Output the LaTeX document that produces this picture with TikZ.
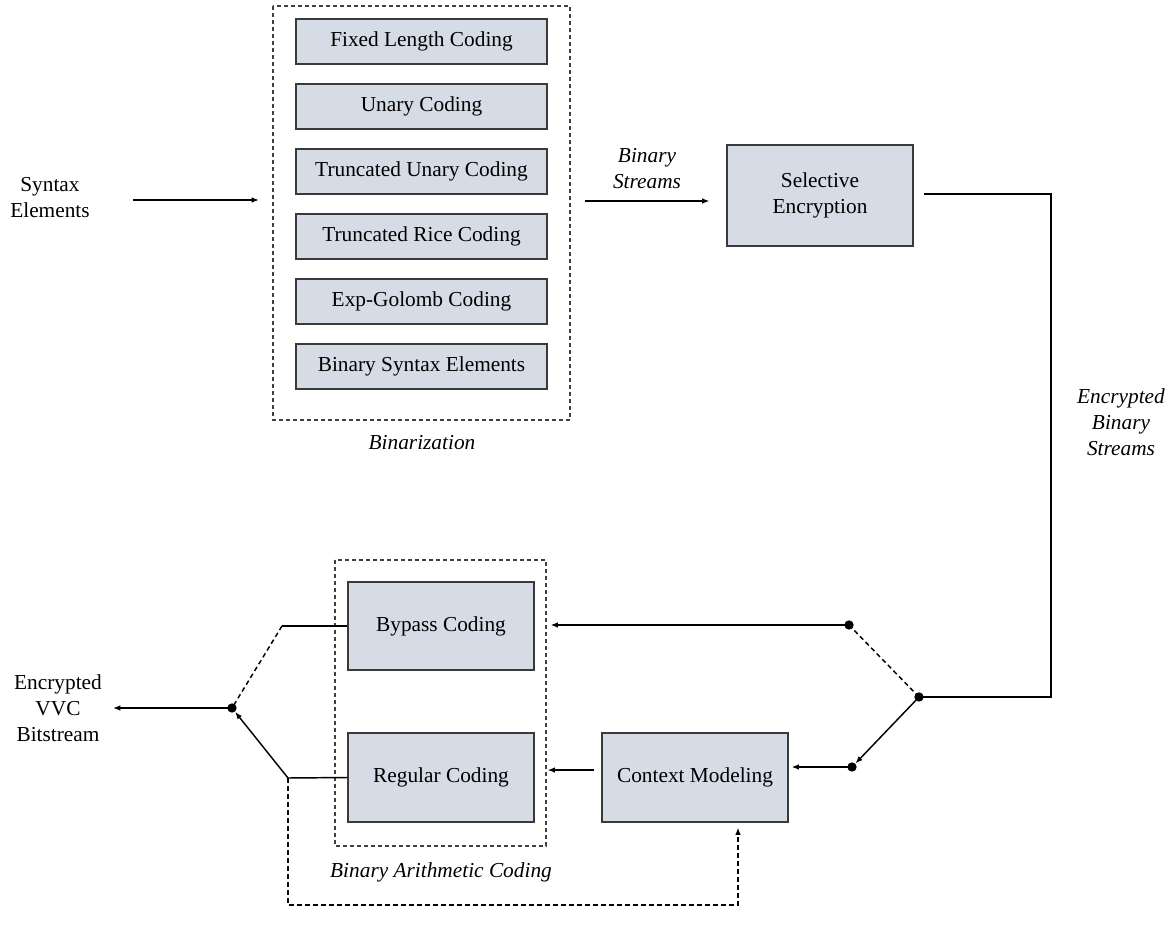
\documentclass[tikz,border=0pt]{standalone}
\usepackage{fontspec}
\setmainfont{Liberation Serif}
\usetikzlibrary{arrows.meta}
\definecolor{boxfill}{HTML}{D6DCE5}
\definecolor{boxline}{HTML}{3A3A3A}
\definecolor{dashline}{HTML}{404040}
\begin{document}
\begin{tikzpicture}[x=0.75pt,y=-0.75pt,
  every node/.style={font=\fontsize{16}{19.5}\selectfont},
  blk/.style={draw=boxline, fill=boxfill, line width=0.8pt, inner sep=0pt, align=center},
  grp/.style={draw=dashline, line width=0.8pt, dash pattern=on 3pt off 2.25pt},
  wire/.style={line width=1.1pt, black},
  dwire/.style={wire, dash pattern=on 3.5pt off 2.5pt},
  arr/.style={wire, -{Latex[length=5.5pt,width=4.2pt]}},
  darr/.style={dwire, -{Latex[length=5.5pt,width=4.2pt]}},
  lbl/.style={align=center, inner sep=0pt, font=\fontsize{16}{19.5}\selectfont\itshape},
  txt/.style={align=center, inner sep=0pt},
  dot/.style={circle, fill=black, inner sep=0pt, minimum size=7pt}
]
\useasboundingbox (0,0) rectangle (1169,934);

% group frames
\draw[grp] (273,6) rectangle (570,420);
\draw[grp] (335,560) rectangle (546,846);

% binarization blocks
\foreach \t [count=\i] in {Fixed Length Coding, Unary Coding, Truncated Unary Coding,
    Truncated Rice Coding, Exp-Golomb Coding, Binary Syntax Elements}
  \node[blk, minimum width=188.25pt, minimum height=33.75pt] (b\i) at (421.5,{41.5+65*(\i-1)}) {\t};

% other blocks
\node[blk, minimum width=139.5pt, minimum height=75.75pt] (sel) at (820,195.5) {Selective\\Encryption};
\node[blk, minimum width=139.5pt, minimum height=66pt] (byp) at (441,626) {Bypass Coding};
\node[blk, minimum width=139.5pt, minimum height=66.75pt] (reg) at (441,777.5) {Regular Coding};
\node[blk, minimum width=139.5pt, minimum height=66.75pt] (ctx) at (695,777.5) {Context Modeling};

% plain texts and labels
\node[txt] (syn) at (50,198) {Syntax\\Elements};
\node[txt] (vvc) at (58,708) {Encrypted\\VVC\\Bitstream};
\node[lbl] (binlbl) at (422,443) {Binarization};
\node[lbl] (bslbl) at (647,169) {Binary\\Streams};
\node[lbl] (eblbl) at (1121,422) {Encrypted\\Binary\\Streams};
\node[lbl] (baclbl) at (441,872) {Binary Arithmetic Coding};

% switch points
\node[dot] (sw) at (919,697) {};
\node[dot] (t) at (849,625) {};
\node[dot] (l) at (852,767) {};
\node[dot] (o) at (232,708) {};

% helper coordinates
\coordinate (synout) at (133,200);
\coordinate (binin) at (259,200);
\coordinate (bsout) at (585,201);
\coordinate (rt) at (1051,194);
\coordinate (rb) at (1051,697);
\coordinate (bc) at (282,626);
\coordinate (rc) at (288,778);
\coordinate (out) at (113,708);
\coordinate (fb1) at (288,905);
\coordinate (fb2) at (738,905);

% connectors
\draw[arr] (synout) -- (binin);
\draw[arr, shorten >=12.75pt] (bsout) -- (bsout -| sel.west);
\draw[wire] ([xshift=7.5pt]sel.east |- rt) -- (rt) -- (rb) -- (sw.center);
\draw[dwire] (sw.center) -- (t.center);
\draw[arr] (sw.center) -- (l);
\draw[arr, shorten >=12pt] (t.center) -- (t.center -| byp.east);
\draw[arr, shorten >=2.25pt] (l.center) -- (l.center -| ctx.east);
\draw[arr, shorten <=5.25pt, shorten >=9.75pt] ([yshift=5.6pt]ctx.west) -- ([yshift=5.6pt]ctx.west -| reg.east);
\draw[wire] (byp.west) -- (bc);
\draw[dwire] (bc) -- (o.center);
\draw[wire] (reg.west) -- (rc);
\draw[arr] (rc) -- (o);
\draw[arr] (o.center) -- (out);
\draw[darr, shorten >=3.75pt] (rc) -- (fb1) -- (fb2) -- (fb2 |- ctx.south);
\end{tikzpicture}
\end{document}
